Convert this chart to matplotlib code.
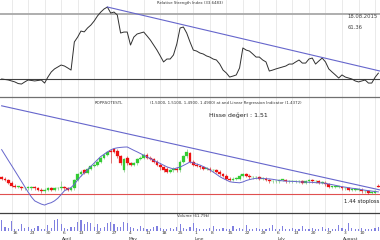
import matplotlib.pyplot as plt
import pandas as pd

# trading days shown on the chart
dates = pd.bdate_range(end="2015-08-18", periods=115)

opens = [
    1.56, 1.55, 1.54, 1.52, 1.50, 1.49, 1.49, 1.48, 1.48, 1.48,
    1.49, 1.48, 1.47, 1.46, 1.47, 1.48, 1.47, 1.48, 1.48, 1.49,
    1.48, 1.47, 1.48, 1.54, 1.58, 1.61, 1.59, 1.62, 1.64, 1.65,
    1.67, 1.70, 1.72, 1.75, 1.76, 1.75, 1.71, 1.61, 1.70, 1.66,
    1.65, 1.66, 1.69, 1.70, 1.72, 1.70, 1.69, 1.67, 1.65, 1.63,
    1.62, 1.60, 1.61, 1.62, 1.61, 1.67, 1.71, 1.73, 1.67, 1.65,
    1.64, 1.63, 1.62, 1.62, 1.61, 1.61, 1.60, 1.58, 1.57, 1.55,
    1.54, 1.55, 1.55, 1.57, 1.58, 1.57, 1.56, 1.56, 1.56, 1.55,
    1.55, 1.54, 1.53, 1.53, 1.53, 1.54, 1.54, 1.53, 1.53, 1.53,
    1.53, 1.53, 1.52, 1.53, 1.54, 1.53, 1.53, 1.52, 1.52, 1.51,
    1.49, 1.49, 1.49, 1.49, 1.48, 1.48, 1.47, 1.47, 1.47, 1.47,
    1.46, 1.46, 1.45, 1.45, 1.50,
]
closes = [
    1.55, 1.54, 1.52, 1.50, 1.49, 1.49, 1.48, 1.48, 1.49, 1.49,
    1.48, 1.47, 1.46, 1.47, 1.48, 1.47, 1.48, 1.48, 1.49, 1.48,
    1.47, 1.48, 1.54, 1.58, 1.60, 1.59, 1.62, 1.64, 1.65, 1.67,
    1.70, 1.72, 1.74, 1.74, 1.74, 1.71, 1.66, 1.69, 1.66, 1.65,
    1.66, 1.69, 1.70, 1.72, 1.70, 1.69, 1.67, 1.65, 1.63, 1.61,
    1.60, 1.61, 1.62, 1.61, 1.67, 1.71, 1.74, 1.67, 1.65, 1.64,
    1.63, 1.62, 1.62, 1.61, 1.61, 1.60, 1.58, 1.57, 1.55, 1.54,
    1.55, 1.55, 1.57, 1.58, 1.57, 1.56, 1.56, 1.56, 1.55, 1.55,
    1.54, 1.53, 1.53, 1.53, 1.54, 1.54, 1.53, 1.53, 1.53, 1.53,
    1.53, 1.52, 1.53, 1.54, 1.53, 1.53, 1.52, 1.52, 1.51, 1.49,
    1.49, 1.49, 1.49, 1.48, 1.48, 1.47, 1.47, 1.47, 1.47, 1.46,
    1.46, 1.45, 1.45, 1.46, 1.49,
]
highs = [
    1.57, 1.56, 1.55, 1.53, 1.51, 1.50, 1.50, 1.49, 1.50, 1.50,
    1.50, 1.49, 1.48, 1.48, 1.49, 1.49, 1.49, 1.49, 1.53, 1.50,
    1.49, 1.49, 1.55, 1.59, 1.61, 1.62, 1.63, 1.65, 1.66, 1.68,
    1.71, 1.73, 1.75, 1.76, 1.77, 1.76, 1.72, 1.70, 1.71, 1.67,
    1.67, 1.70, 1.71, 1.73, 1.73, 1.71, 1.70, 1.68, 1.66, 1.64,
    1.63, 1.62, 1.63, 1.63, 1.68, 1.72, 1.76, 1.74, 1.68, 1.66,
    1.65, 1.64, 1.63, 1.63, 1.62, 1.62, 1.61, 1.59, 1.58, 1.56,
    1.56, 1.56, 1.58, 1.59, 1.59, 1.58, 1.57, 1.57, 1.57, 1.56,
    1.56, 1.55, 1.54, 1.54, 1.55, 1.55, 1.55, 1.54, 1.54, 1.54,
    1.54, 1.54, 1.54, 1.55, 1.55, 1.54, 1.54, 1.53, 1.53, 1.52,
    1.50, 1.50, 1.50, 1.50, 1.49, 1.49, 1.48, 1.48, 1.48, 1.48,
    1.47, 1.47, 1.46, 1.47, 1.51,
]
lows = [
    1.54, 1.53, 1.51, 1.49, 1.48, 1.48, 1.47, 1.47, 1.47, 1.47,
    1.47, 1.46, 1.45, 1.45, 1.46, 1.46, 1.46, 1.47, 1.47, 1.47,
    1.46, 1.46, 1.47, 1.53, 1.57, 1.58, 1.58, 1.61, 1.63, 1.64,
    1.66, 1.69, 1.71, 1.66, 1.73, 1.70, 1.65, 1.60, 1.65, 1.64,
    1.64, 1.65, 1.68, 1.69, 1.69, 1.68, 1.66, 1.64, 1.61, 1.60,
    1.59, 1.59, 1.60, 1.60, 1.60, 1.66, 1.70, 1.66, 1.64, 1.63,
    1.62, 1.61, 1.61, 1.60, 1.60, 1.59, 1.57, 1.56, 1.54, 1.53,
    1.53, 1.54, 1.54, 1.56, 1.56, 1.55, 1.55, 1.55, 1.54, 1.54,
    1.53, 1.52, 1.52, 1.52, 1.52, 1.53, 1.52, 1.52, 1.52, 1.52,
    1.52, 1.51, 1.51, 1.52, 1.52, 1.52, 1.51, 1.51, 1.50, 1.48,
    1.48, 1.48, 1.48, 1.47, 1.47, 1.46, 1.46, 1.46, 1.46, 1.45,
    1.45, 1.44, 1.44, 1.44, 1.49,
]
moving_avg = [
    1.757, 1.719, 1.681, 1.644, 1.606, 1.568, 1.530, 1.492, 1.454, 1.419,
    1.391, 1.379, 1.368, 1.361, 1.371, 1.378, 1.391, 1.410, 1.436, 1.463,
    1.476, 1.486, 1.509, 1.540, 1.567, 1.590, 1.614, 1.638, 1.661, 1.685,
    1.708, 1.724, 1.740, 1.755, 1.765, 1.770, 1.773, 1.775, 1.776, 1.764,
    1.752, 1.741, 1.729, 1.717, 1.705, 1.693, 1.681, 1.669, 1.658, 1.646,
    1.634, 1.626, 1.619, 1.626, 1.632, 1.644, 1.656, 1.669, 1.662, 1.654,
    1.647, 1.636, 1.625, 1.613, 1.597, 1.581, 1.564, 1.551, 1.540, 1.528,
    1.524, 1.522, 1.520, 1.526, 1.536, 1.543, 1.548, 1.552, 1.553, 1.551,
    1.549, 1.548, 1.545, 1.541, 1.537, 1.534, 1.532, 1.531, 1.530, 1.529,
    1.527, 1.526, 1.525, 1.524, 1.523, 1.521, 1.520, 1.519, 1.516, 1.511,
    1.507, 1.502, 1.497, 1.492, 1.489, 1.485, 1.481, 1.479, 1.475, 1.471,
    1.467, 1.464, 1.461, 1.458, 1.455,
]
rsi = [
    30.0, 29.7, 29.4, 28.8, 28.2, 27.2, 26.9, 28.2, 29.4, 29.1,
    28.8, 29.1, 29.4, 27.5, 31.2, 34.3, 36.2, 37.4, 38.6, 38.0,
    36.8, 35.5, 52.8, 55.8, 59.5, 59.0, 61.4, 63.2, 65.7, 68.8,
    71.2, 73.1, 74.3, 70.6, 71.2, 69.4, 58.3, 58.9, 58.9, 50.9,
    55.8, 57.7, 58.3, 58.9, 56.5, 54.0, 50.9, 47.8, 44.2, 40.5,
    42.3, 42.3, 44.8, 51.5, 61.4, 62.0, 58.3, 52.8, 47.8, 47.2,
    46.0, 45.4, 44.2, 43.5, 42.3, 41.7, 39.2, 35.5, 33.7, 31.2,
    31.8, 32.5, 36.8, 49.1, 47.8, 47.2, 45.4, 43.5, 43.5, 41.7,
    40.5, 34.9, 35.5, 36.2, 36.8, 37.4, 38.0, 39.2, 39.2, 40.5,
    41.7, 39.8, 39.8, 42.3, 42.9, 39.2, 41.1, 42.9, 40.5, 36.2,
    34.3, 32.5, 30.6, 32.5, 31.2, 30.6, 30.0, 28.8, 28.2, 28.8,
    29.4, 27.5, 27.5, 31.0, 33.6,
]
volume = [
    600, 200, 150, 550, 120, 100, 400, 150, 200, 120,
    150, 300, 120, 100, 350, 150, 600, 650, 400, 150,
    120, 200, 250, 500, 600, 400, 500, 450, 200, 400,
    150, 200, 450, 500, 400, 200, 250, 500, 450, 200,
    150, 120, 300, 150, 100, 120, 200, 300, 150, 120,
    100, 150, 120, 200, 400, 150, 120, 200, 450, 150,
    100, 120, 100, 150, 300, 100, 120, 150, 100, 120,
    300, 100, 150, 120, 350, 100, 120, 150, 100, 120,
    100, 150, 330, 100, 120, 300, 100, 120, 150, 100,
    120, 300, 100, 120, 150, 100, 120, 250, 100, 150,
    120, 100, 350, 150, 120, 450, 150, 100, 120, 150,
    100, 120, 100, 150, 200,
]

price_trend_bars = [0, 114.5]
price_trend_vals = [2.07, 1.469]
rsi_trend_bars = [32, 114.5]
rsi_trend_vals = [74.3, 34.9]
stop_level = 1.44

blue = "#6666cc"
grid_c = "#e6e6e6"

fig = plt.figure(figsize=(3.8, 2.4), dpi=100)
ax_rsi = fig.add_axes([0, 0.5958, 1, 0.4042])
ax_p = fig.add_axes([0, 0.1125, 1, 0.4833])
ax_v = fig.add_axes([0, 0.0375, 1, 0.075])

idx = list(range(len(dates)))
mondays = [i for i, d in enumerate(dates) if d.weekday() == 0]

for ax in (ax_rsi, ax_p, ax_v):
    ax.set_xlim(-0.5, len(dates) - 0.5)
    for s in ax.spines.values():
        s.set_visible(False)
    ax.set_xticks([])
    ax.set_yticks([])
    for m in mondays:
        ax.axvline(m, color=grid_c, lw=0.6, zorder=0)

# RSI panel
ax_rsi.set_ylim(18.92, 78.62)
ax_rsi.axhline(70, color="#a8a8a8", lw=1.3)
ax_rsi.axhline(30, color="#404040", lw=0.8)
ax_rsi.plot(idx, rsi, color="#303030", lw=0.7)
ax_rsi.plot(rsi_trend_bars, rsi_trend_vals, color=blue, lw=0.8)
ax_rsi.text(0.5, 0.985, "Relative Strength Index (33.6483)", transform=ax_rsi.transAxes,
            fontsize=2.8, ha="center", va="top", color="#333333")
ax_rsi.text(0.915, 0.83, "18.08.2015", transform=ax_rsi.transAxes,
            fontsize=3.8, ha="left", va="center", color="#444444")
ax_rsi.text(0.915, 0.72, "61.36", transform=ax_rsi.transAxes,
            fontsize=3.8, ha="left", va="center", color="#444444")

# price panel
ax_p.set_ylim(1.3043, 2.1329)
ax_p.spines["top"].set_visible(True)
ax_p.spines["top"].set_color("#707070")
ax_p.spines["top"].set_linewidth(0.9)
ax_p.axhline(stop_level, color="#e05050", lw=0.8)
for i in idx:
    up = closes[i] >= opens[i]
    col = "#33cc33" if up else "#ee1111"
    ax_p.vlines(i, lows[i], highs[i], color="#66bb66" if up else "#cc2222", lw=0.4, zorder=2)
    ax_p.bar(i, max(abs(closes[i] - opens[i]), 0.005), bottom=min(opens[i], closes[i]),
             width=0.85, color=col, edgecolor=col, lw=0.2, zorder=3)
ax_p.plot(idx, moving_avg, color=blue, lw=0.7, zorder=4)
ax_p.plot(price_trend_bars, price_trend_vals, color=blue, lw=0.8, zorder=4)
ax_p.text(0.25, 0.965, "ROPRSOTESTL", transform=ax_p.transAxes,
          fontsize=2.8, ha="left", va="top", color="#333333")
ax_p.text(0.395, 0.965,
          "(1.5000, 1.5100, 1.4900, 1.4900) at and Linear Regression Indicator (1.4372)",
          transform=ax_p.transAxes, fontsize=2.8, ha="left", va="top", color="#333333")
ax_p.text(0.55, 0.84, "Hisse de\u011feri : 1.51", transform=ax_p.transAxes,
          fontsize=4.5, ha="left", va="center", color="#222222")
ax_p.text(0.905, 0.095, "1.44 stoploss", transform=ax_p.transAxes,
          fontsize=3.9, ha="left", va="center", color="#222222")

# volume panel
ax_v.set_ylim(0, 1000)
ax_v.spines["top"].set_visible(True)
ax_v.spines["top"].set_color("#404040")
ax_v.spines["top"].set_linewidth(0.9)
ax_v.bar(idx, volume, width=0.35, color="#8080e0", zorder=2)
ax_v.text(0.465, 0.93, "Volume (61.79k)", transform=ax_v.transAxes,
          fontsize=2.8, ha="left", va="top", color="#333333")

# date labels below the volume panel
seen = set()
for m in mondays:
    if m > len(dates) - 3:
        continue
    ax_v.text(m + 0.4, -20, str(dates[m].day), fontsize=3.2, ha="left", va="top", color="#333333")
    mon = dates[m].month
    if mon not in seen and dates[m].day <= 7:
        seen.add(mon)
        ax_v.text(m + 0.4, -330, dates[m].strftime("%B"), fontsize=3.2,
                  ha="left", va="top", color="#333333")

fig.savefig("out.png", dpi=100, facecolor="white")
